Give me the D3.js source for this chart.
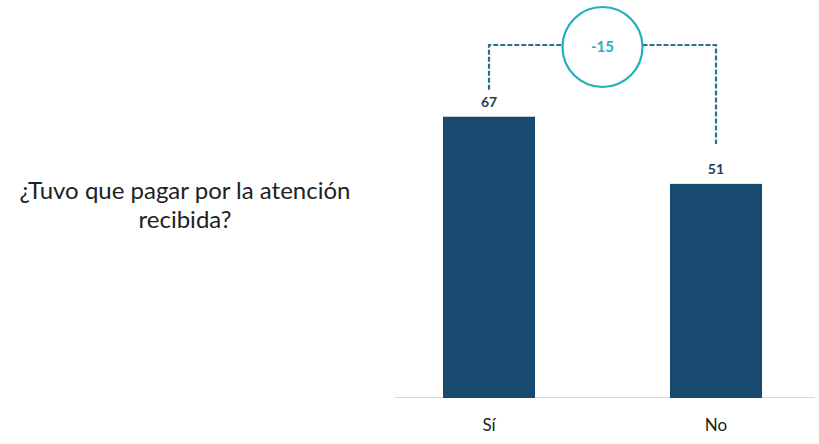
<!DOCTYPE html>
<html>
<head>
<meta charset="utf-8">
<script src="https://cdn.jsdelivr.net/npm/d3@7"></script>
<style>
  html, body { margin: 0; padding: 0; background: #ffffff; }
  svg { display: block; }
</style>
</head>
<body>
<svg id="chart" width="819" height="444"></svg>
<script>
// Respuestas y porcentajes
const categories = ["Sí", "No"];
const values = [67, 51];
const differenceLabel = "-15";
const question = ["¿Tuvo que pagar por la atención", "recibida?"];

const svg = d3.select("#chart");

const barColor = "#174a6e";
const labelColor = "#1f3b57";
const accent = "#1fb0bd";
const dashColor = "#2a6f8c";

const x = d3.scaleBand()
  .domain(categories)
  .range([375.5, 829.5])
  .paddingInner(0.5947)
  .paddingOuter(0.2974);

const y = d3.scaleLinear()
  .domain([0, 94.8])
  .range([398, 0]);

// Pregunta
const q = svg.append("text")
  .attr("x", 185)
  .attr("y", 199)
  .attr("text-anchor", "middle")
  .attr("font-family", "Lato, 'Open Sans', sans-serif")
  .attr("font-size", 24)
  .attr("fill", "#222");
q.selectAll("tspan").data(question).join("tspan")
  .attr("x", 185)
  .attr("dy", (d, i) => i === 0 ? 0 : 29)
  .text(d => d);

// Línea base
svg.append("line")
  .attr("x1", 395).attr("x2", 815)
  .attr("y1", y(0) - 0.5).attr("y2", y(0) - 0.5)
  .attr("stroke", "#d9d9d9")
  .attr("stroke-width", 1);

// Barras
const data = categories.map((c, i) => ({ c, v: values[i] }));
svg.selectAll("rect.bar").data(data).join("rect")
  .attr("class", "bar")
  .attr("x", d => x(d.c))
  .attr("y", d => y(d.v))
  .attr("width", x.bandwidth())
  .attr("height", d => y(0) - y(d.v))
  .attr("fill", barColor);

// Valores sobre las barras
svg.selectAll("text.val").data(data).join("text")
  .attr("class", "val")
  .attr("x", d => x(d.c) + x.bandwidth() / 2)
  .attr("y", d => y(d.v) - 10)
  .attr("text-anchor", "middle")
  .attr("font-family", "Lato, 'Open Sans', sans-serif")
  .attr("font-weight", "bold")
  .attr("font-size", 14)
  .attr("fill", labelColor)
  .text(d => d.v);

// Etiquetas de categoría
const xAxis = d3.axisBottom(x).tickSize(0).tickPadding(0);
const gx = svg.append("g").attr("transform", `translate(0, ${y(0) + 33})`).call(xAxis);
gx.select(".domain").remove();
gx.selectAll("text")
  .attr("dy", 0)
  .attr("font-family", "Lato, 'Open Sans', sans-serif")
  .attr("font-size", 17)
  .attr("fill", "#222");

// Conector de diferencia
const cx0 = x(categories[0]) + x.bandwidth() / 2;
const cx1 = x(categories[1]) + x.bandwidth() / 2;
const topY = 45;
const circ = { x: 602.5, y: 47, r: 40 };

const path = d3.path();
path.moveTo(cx0, y(values[0]) - 27);
path.lineTo(cx0, topY);
path.lineTo(circ.x - circ.r, topY);
path.moveTo(circ.x + circ.r, topY);
path.lineTo(cx1, topY);
path.lineTo(cx1, y(values[1]) - 40);

svg.append("path")
  .attr("d", path.toString())
  .attr("fill", "none")
  .attr("stroke", dashColor)
  .attr("stroke-width", 2.2)
  .attr("stroke-dasharray", "5,2");

svg.append("circle")
  .attr("cx", circ.x).attr("cy", circ.y).attr("r", circ.r)
  .attr("fill", "#fff")
  .attr("stroke", accent)
  .attr("stroke-width", 2.2);

svg.append("text")
  .attr("x", circ.x)
  .attr("y", circ.y + 5)
  .attr("text-anchor", "middle")
  .attr("font-family", "Lato, 'Open Sans', sans-serif")
  .attr("font-weight", "bold")
  .attr("font-size", 15)
  .attr("fill", accent)
  .text(differenceLabel);
</script>
</body>
</html>
